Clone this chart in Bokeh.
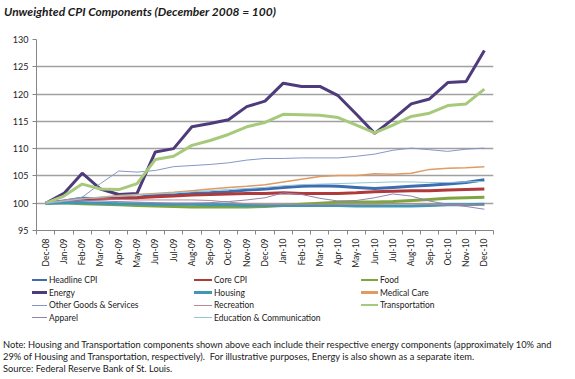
import math
from bokeh.plotting import figure
from bokeh.layouts import column
from bokeh.models import Range1d, FixedTicker, Div
from bokeh.embed import file_html
from bokeh.resources import INLINE

months = ["Dec-08", "Jan-09", "Feb-09", "Mar-09", "Apr-09", "May-09", "Jun-09", "Jul-09",
          "Aug-09", "Sep-09", "Oct-09", "Nov-09", "Dec-09", "Jan-10", "Feb-10", "Mar-10",
          "Apr-10", "May-10", "Jun-10", "Jul-10", "Aug-10", "Sep-10", "Oct-10", "Nov-10", "Dec-10"]

headline = [100, 100.4, 100.9, 100.8, 100.9, 101.0, 101.6, 101.5, 101.8, 101.9, 102.1, 102.4, 102.6,
            102.9, 103.1, 103.2, 103.1, 102.9, 102.7, 102.9, 103.1, 103.3, 103.5, 103.8, 104.3]
core = [100, 100.3, 100.6, 100.8, 100.9, 101.0, 101.2, 101.3, 101.5, 101.6, 101.7, 101.8, 101.8,
        101.9, 101.8, 101.8, 101.8, 101.9, 102.1, 102.2, 102.3, 102.3, 102.4, 102.5, 102.6]
food = [100, 100.1, 99.9, 99.8, 99.7, 99.6, 99.5, 99.4, 99.3, 99.3, 99.3, 99.3, 99.4,
        99.6, 99.8, 100.0, 100.2, 100.2, 100.2, 100.3, 100.5, 100.7, 100.9, 101.0, 101.1]
energy = [100, 101.8, 105.5, 102.6, 101.6, 101.8, 109.4, 110.0, 114.0, 114.6, 115.3, 117.7, 118.7,
          122.0, 121.4, 121.4, 119.7, 116.3, 112.8, 115.4, 118.2, 119.1, 122.1, 122.3, 128.0]
housing = [100, 100.1, 100.1, 100.0, 99.9, 99.9, 99.8, 99.8, 99.8, 99.7, 99.7, 99.6, 99.6,
           99.6, 99.6, 99.6, 99.6, 99.5, 99.5, 99.5, 99.5, 99.6, 99.7, 99.7, 99.8]
medical = [100, 100.4, 100.8, 101.1, 101.4, 101.6, 101.8, 102.0, 102.3, 102.6, 102.9, 103.1, 103.4,
           103.9, 104.4, 104.9, 105.1, 105.1, 105.4, 105.3, 105.5, 106.2, 106.4, 106.5, 106.7]
other = [100, 100.5, 101.1, 103.6, 105.9, 105.7, 106.0, 106.7, 106.9, 107.1, 107.4, 107.9, 108.2,
         108.2, 108.3, 108.3, 108.3, 108.6, 109.0, 109.7, 110.1, 109.8, 109.5, 109.9, 110.1]
recreation = [100, 100.6, 100.9, 100.8, 100.7, 100.6, 100.6, 100.6, 100.6, 100.5, 100.2, 99.9, 99.8,
              99.8, 99.8, 99.8, 99.8, 99.8, 99.8, 99.9, 99.9, 99.8, 99.7, 99.7, 99.6]
transportation = [100, 101.3, 103.5, 102.6, 102.5, 103.6, 108.0, 108.6, 110.6, 111.5, 112.6, 114.0, 114.8,
                  116.3, 116.2, 116.1, 115.7, 114.3, 112.9, 114.3, 115.9, 116.5, 117.9, 118.2, 120.9]
apparel = [100, 100.3, 100.5, 100.4, 100.3, 100.2, 100.1, 100.0, 100.0, 100.1, 100.3, 100.6, 101.0,
           101.9, 101.6, 100.9, 100.4, 100.5, 101.0, 101.7, 101.3, 100.4, 99.8, 99.4, 98.9]
education = [100, 100.4, 100.8, 101.1, 101.3, 101.5, 101.7, 101.9, 102.1, 102.3, 102.5, 102.7, 102.9,
             103.2, 103.4, 103.5, 103.6, 103.7, 103.8, 103.9, 103.9, 103.8, 103.8, 103.9, 104.0]

series_names = ["Headline CPI", "Core CPI", "Food", "Energy", "Housing", "Medical Care",
                "Other Goods & Services", "Recreation", "Transportation", "Apparel",
                "Education & Communication"]
series_values = [headline, core, food, energy, housing, medical, other, recreation,
                 transportation, apparel, education]
series_colors = ["#3D6DB0", "#B0393A", "#7FA542", "#4E3B7C", "#3F97B4", "#E19A62",
                 "#8497C4", "#C08590", "#A6C97C", "#9283B2", "#93C6DA"]
series_widths = [3, 3, 3, 3, 3, 1.5, 1, 1, 3, 1, 1]

y_ticks = [95, 100, 105, 110, 115, 120, 125, 130]

title_text = "Unweighted CPI Components (December 2008 = 100)"
notes = [
    "Note: Housing and Transportation components shown above each include their respective energy components (approximately 10% and",
    "29% of Housing and Transportation, respectively).  For illustrative purposes, Energy is also shown as a separate item.",
    "Source: Federal Reserve Bank of St. Louis.",
]

FONT = "Lato"
W = 575
TXT = "#1A1A1A"


def abs_text(left, center_y, text, size, extra=""):
    return (f'<div style="position:absolute;left:{left}px;top:{center_y - 7}px;height:14px;'
            f'line-height:14px;font-family:{FONT};font-size:{size}px;color:{TXT};'
            f'white-space:pre;{extra}">{text.replace("&", "&amp;")}</div>')


# ---------- title ----------
TH = 34
title_html = (f'<div style="position:relative;width:{W}px;height:{TH}px;margin:0;padding:0;">'
              + abs_text(4, 12, title_text, 12, "font-weight:bold;font-style:italic;")
              + '</div>')
title_div = Div(text=title_html, width=W, height=TH, margin=0)

# ---------- chart ----------
x = list(range(len(months)))
p = figure(width=W, height=236, output_backend="svg", toolbar_location=None,
           x_range=Range1d(-0.5, len(months) - 0.5), y_range=Range1d(95, 130),
           min_border_left=36, min_border_right=82, min_border_top=5, min_border_bottom=39)
p.outline_line_color = None

p.xaxis.ticker = FixedTicker(ticks=x, minor_ticks=[i - 0.5 for i in range(len(months) + 1)])
p.xaxis.major_label_overrides = {i: m for i, m in enumerate(months)}
p.xaxis.major_label_orientation = math.pi / 2
p.xaxis.major_tick_out = 0
p.xaxis.major_tick_in = 0
p.xaxis.minor_tick_out = 4
p.xaxis.minor_tick_in = 0
p.xaxis.minor_tick_line_color = "#868686"
p.xaxis.axis_line_color = "#868686"
p.xaxis.major_label_standoff = 4
p.xaxis.major_label_text_font = FONT
p.xaxis.major_label_text_font_size = "8.5px"
p.xaxis.major_label_text_color = "#222222"

p.yaxis.ticker = FixedTicker(ticks=y_ticks)
p.yaxis.axis_line_color = "#868686"
p.yaxis.major_tick_out = 4
p.yaxis.major_tick_in = 0
p.yaxis.major_tick_line_color = "#868686"
p.yaxis.minor_tick_line_color = None
p.yaxis.major_label_standoff = 4
p.yaxis.major_label_text_font = FONT
p.yaxis.major_label_text_font_size = "9px"
p.yaxis.major_label_text_color = "#222222"

p.xgrid.grid_line_color = None
p.ygrid.ticker = FixedTicker(ticks=y_ticks)
p.ygrid.grid_line_color = "#A0A0A0"
p.ygrid.grid_line_width = 1.5

for name, vals, col, lw in zip(series_names, series_values, series_colors, series_widths):
    p.line(x, vals, line_color=col, line_width=lw)

# ---------- legend + notes ----------
BH = 109
row_y = [10, 22.5, 35, 47.5]
col_x0 = [32, 194, 361]
col_len = [15, 18, 17]
col_tx = [49, 214, 380]
parts = [f'<div style="position:relative;width:{W}px;height:{BH}px;margin:0;padding:0;">']
for i, (name, colr, lw) in enumerate(zip(series_names, series_colors, series_widths)):
    r, c = divmod(i, 3)
    h = 2.5 if lw >= 1.5 else 1
    parts.append(f'<div style="position:absolute;left:{col_x0[c]}px;top:{row_y[r] - h / 2}px;'
                 f'width:{col_len[c]}px;height:{h}px;background:{colr};"></div>')
    parts.append(abs_text(col_tx[c], row_y[r], name, 8.5))
note_y = [75, 87, 99]
for t, yy in zip(notes, note_y):
    parts.append(abs_text(3, yy, t, 9.3))
parts.append('</div>')
bottom_div = Div(text="".join(parts), width=W, height=BH, margin=0)

layout = column(title_div, p, bottom_div, spacing=0)
open("out.html", "w").write(file_html(layout, INLINE))
